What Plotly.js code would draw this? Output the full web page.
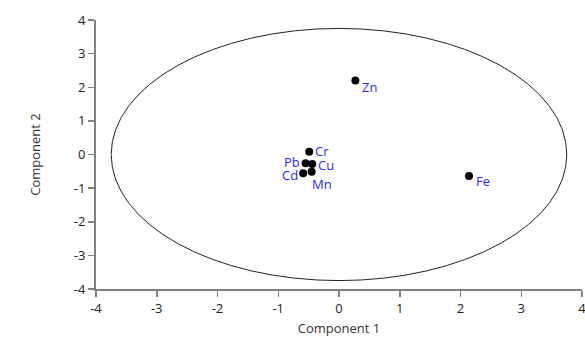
<!DOCTYPE html>
<html><head><meta charset="utf-8">
<script src="https://cdn.plot.ly/plotly-3.0.1.min.js"></script>
<style>body{margin:0;background:#fff}#chart{width:585px;height:338px}</style>
</head><body><div id="chart"></div>
<script>
const labels = ["Zn","Fe","Cr","Pb","Cu","Cd","Mn"];
const comp1 = [0.27, 2.14, -0.49, -0.55, -0.44, -0.59, -0.45];
const comp2 = [2.2, -0.64, 0.08, -0.26, -0.28, -0.56, -0.51];
const tickValues = [-4,-3,-2,-1,0,1,2,3,4];
const tickLabels = ["-4","-3","-2","-1","0","1","2","3","4"];
const circleRadius = 3.75;

// label placement (style only)
const labelAnchor = ["left","left","left","right","left","right","left"];
const labelDx = [6, 6, 5, -5, 5, -4, -1];
const labelDy = [-6, -5, 1, 1, -1, -2, -12];

const fontFam = "Open Sans, sans-serif";
const trace = {
  x: comp1, y: comp2, mode: "markers", type: "scatter",
  marker: {color: "#000", size: 8},
  cliponaxis: false, hoverinfo: "none"
};
const annotations = labels.map((t, i) => ({
  x: comp1[i], y: comp2[i], xref: "x", yref: "y", text: t, showarrow: false,
  xanchor: labelAnchor[i], yanchor: "middle", xshift: labelDx[i], yshift: labelDy[i],
  borderpad: 0,
  font: {color: "#2a2aff", size: 13, family: fontFam}
}));
const axisCommon = {
  range: [-4, 4], tickvals: tickValues, ticktext: tickLabels, showgrid: false, zeroline: false,
  showline: true, linecolor: "#808080", linewidth: 2,
  ticks: "outside", ticklen: 6, tickwidth: 1.5, tickcolor: "#808080",
  ticklabeloverflow: "allow",
  tickfont: {size: 13, color: "#222", family: fontFam}
};
const layout = {
  width: 585, height: 338,
  margin: {l: 96, r: 3, t: 20, b: 49},
  showlegend: false,
  paper_bgcolor: "#fff", plot_bgcolor: "#fff",
  xaxis: Object.assign({}, axisCommon, {
    title: {text: "Component 1", font: {size: 13, color: "#333", family: fontFam}, standoff: 8}
  }),
  yaxis: Object.assign({}, axisCommon, {
    title: {text: "Component 2", font: {size: 13, color: "#333", family: fontFam}, standoff: 30}
  }),
  annotations: annotations,
  shapes: [{
    type: "circle", xref: "x", yref: "y",
    x0: -circleRadius, x1: circleRadius, y0: -circleRadius, y1: circleRadius,
    line: {color: "#222", width: 1}
  }]
};
Plotly.newPlot("chart", [trace], layout, {staticPlot: true});
</script></body></html>
